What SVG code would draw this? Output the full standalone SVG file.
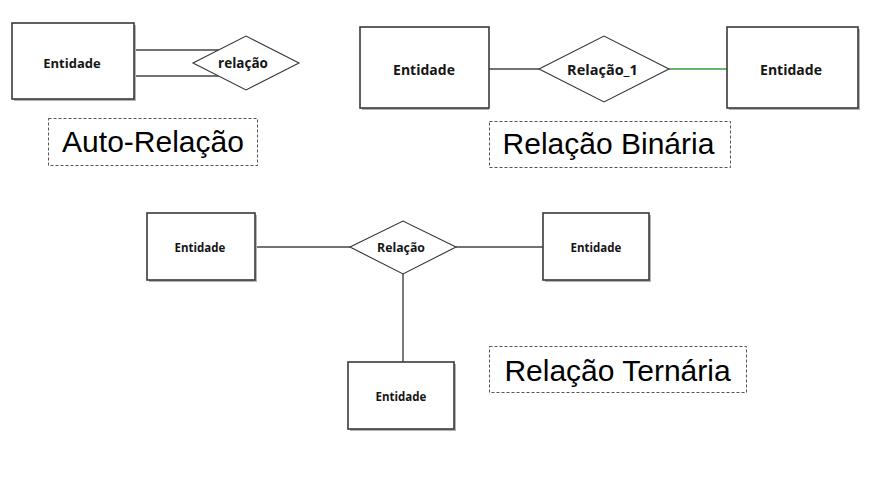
<svg xmlns="http://www.w3.org/2000/svg" width="882" height="477" viewBox="0 0 882 477">
<style>
.shadow{fill:#b4b4b4;stroke:none}
.ent{fill:#fff;stroke:#3a3a3a;stroke-width:1.6}
.rel{fill:#fff;stroke:#333;stroke-width:1.1}
.lbl{font-family:"Open Sans","DejaVu Sans",sans-serif;font-weight:bold;fill:#151515;text-anchor:middle}
.conn{stroke:#444;stroke-width:1.4;fill:none}
.green{stroke:#3c9a3c}
.cap{fill:none;stroke:#555;stroke-width:1;stroke-dasharray:3,2}
.capt{font-family:"Liberation Sans",Arial,sans-serif;font-size:30px;fill:#000;text-anchor:middle}
</style>
<rect width="882" height="477" fill="#fff"/>
<g id="connectors">
<line class="conn" x1="134" y1="50" x2="219" y2="50"/>
<line class="conn" x1="134" y1="76" x2="219" y2="76"/>
<line class="conn" x1="489" y1="69" x2="539" y2="69"/>
<line class="conn green" x1="669" y1="69" x2="727" y2="69"/>
<line class="conn" x1="255" y1="247" x2="350" y2="247"/>
<line class="conn" x1="456" y1="247" x2="543" y2="247"/>
<line class="conn" x1="403" y1="274" x2="403" y2="362"/>
</g>
<g id="e1">
<rect class="shadow" x="14" y="25" width="122" height="76"/>
<rect class="ent" x="12" y="23" width="122" height="76"/>
<text class="lbl" x="72" y="67.5" font-size="13">Entidade</text>
</g>
<g id="r1">
<polygon class="rel" points="193,63 246,36 299,63 246,90"/>
<text class="lbl" x="243" y="68" font-size="13.5">relação</text>
</g>
<g id="cap1">
<rect class="cap" x="48.5" y="118.5" width="209" height="47"/>
<text class="capt" x="153" y="152">Auto-Relação</text>
</g>
<g id="e2">
<rect class="shadow" x="362" y="29" width="127" height="81"/>
<rect class="ent" x="360" y="27" width="129" height="81"/>
<text class="lbl" x="424" y="75" font-size="14">Entidade</text>
</g>
<g id="r2">
<polygon class="rel" points="539,69 604,36 669,69 604,102"/>
<text class="lbl" x="602.5" y="75" font-size="14.5">Relação_1</text>
</g>
<g id="e3">
<rect class="shadow" x="729" y="29" width="131" height="81"/>
<rect class="ent" x="727" y="27" width="131" height="81"/>
<text class="lbl" x="791" y="75" font-size="14">Entidade</text>
</g>
<g id="cap2">
<rect class="cap" x="489.5" y="121.5" width="241" height="46"/>
<text class="capt" x="608.5" y="154">Relação Binária</text>
</g>
<g id="e4">
<rect class="shadow" x="149" y="215" width="108" height="67"/>
<rect class="ent" x="147" y="213" width="108" height="67"/>
<text class="lbl" x="200" y="251.5" font-size="11.5">Entidade</text>
</g>
<g id="r3">
<polygon class="rel" points="350,247 403,221 456,247 403,274"/>
<text class="lbl" x="401" y="252" font-size="12.3">Relação</text>
</g>
<g id="e5">
<rect class="shadow" x="545" y="215" width="106" height="67"/>
<rect class="ent" x="543" y="213" width="106" height="67"/>
<text class="lbl" x="596" y="251.5" font-size="11.5">Entidade</text>
</g>
<g id="e6">
<rect class="shadow" x="350" y="364" width="106" height="67"/>
<rect class="ent" x="348" y="362" width="106" height="67"/>
<text class="lbl" x="401" y="401" font-size="11.5">Entidade</text>
</g>
<g id="cap3">
<rect class="cap" x="489.5" y="346.5" width="257" height="46"/>
<text class="capt" x="617.5" y="381">Relação Ternária</text>
</g>
</svg>
